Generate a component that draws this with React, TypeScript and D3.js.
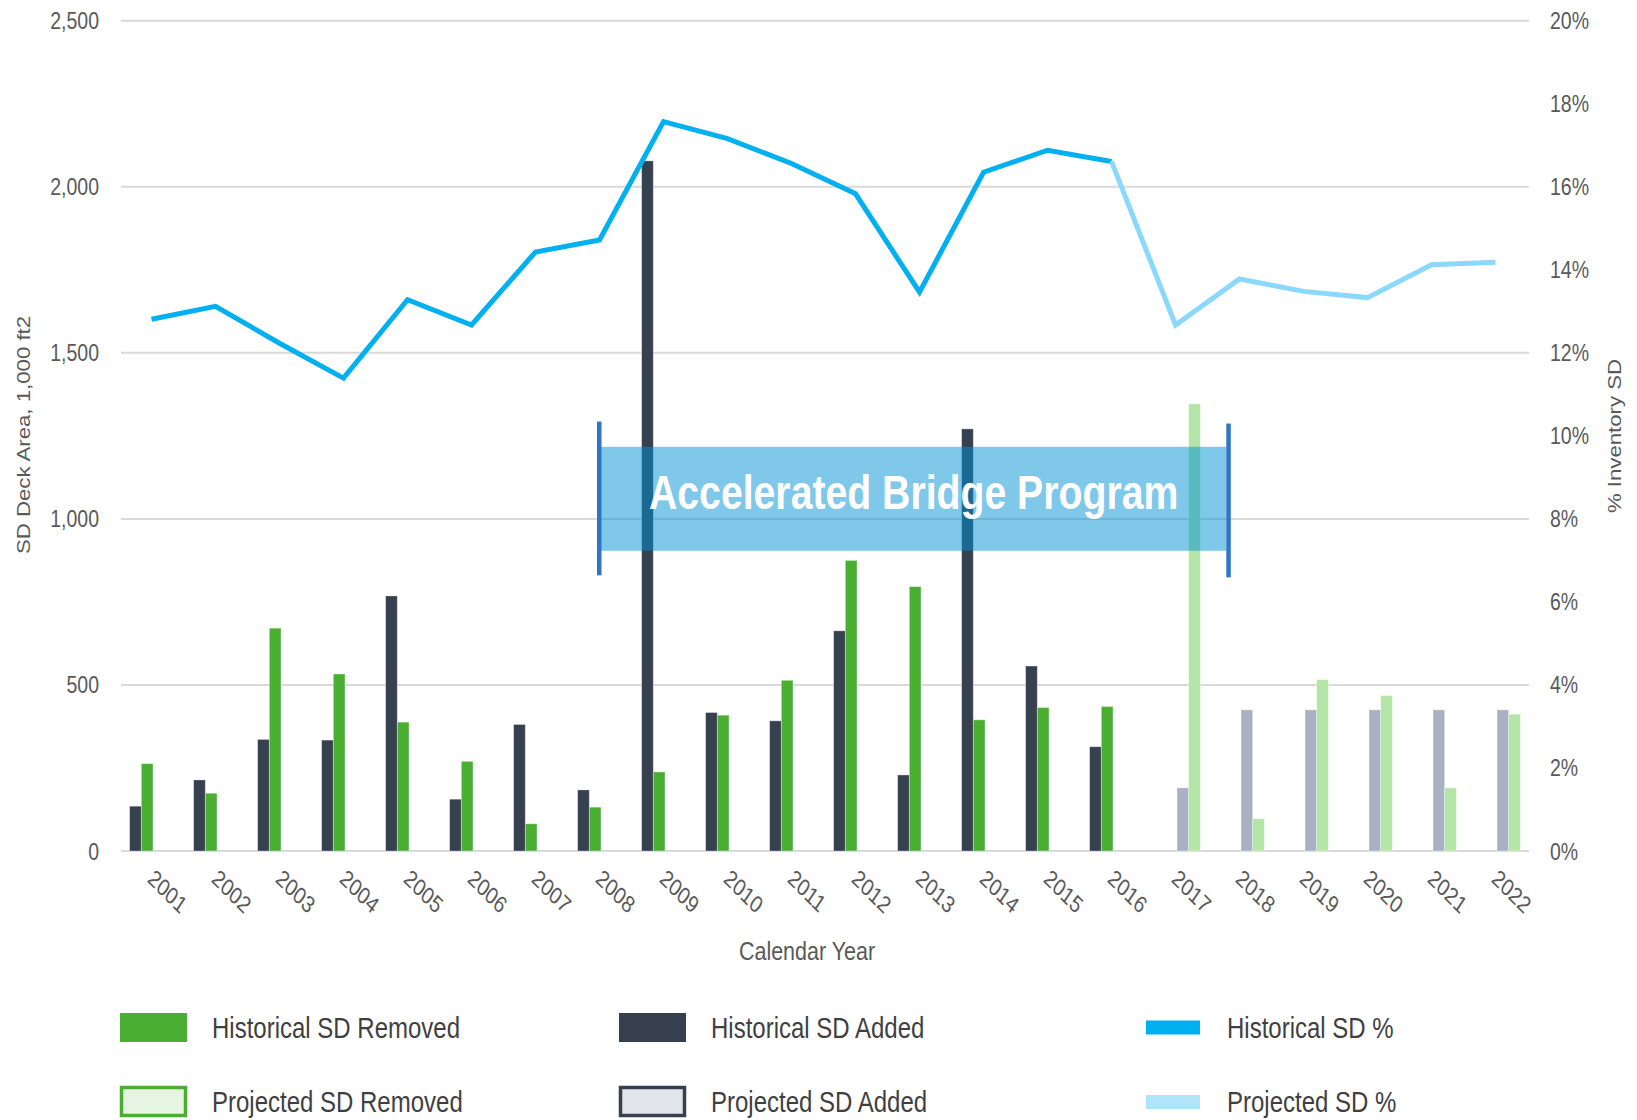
import React from 'react';
import * as d3 from 'd3';

const years = ['2001','2002','2003','2004','2005','2006','2007','2008','2009','2010','2011','2012','2013','2014','2015','2016','2017','2018','2019','2020','2021','2022'];
const firstProjectedYear = '2017';
const lastHistoricalLineYear = '2016';
const barSlots = ['histAdded', 'histRemoved', 'projAdded', 'projRemoved'];

const sdAdded = [135, 214, 336, 334, 768, 156, 381, 184, 2078, 417, 392, 663, 229, 1271, 557, 314, 190, 425, 425, 425, 425, 425];
const sdRemoved = [263, 174, 671, 533, 388, 270, 82, 132, 238, 409, 514, 875, 796, 395, 432, 435, 1346, 97, 516, 468, 190, 412];
const sdPercent = [12.81, 13.12, 12.23, 11.39, 13.28, 12.67, 14.43, 14.72, 17.57, 17.16, 16.56, 15.83, 13.46, 16.35, 16.88, 16.61, 12.67, 13.78, 13.48, 13.33, 14.12, 14.18];

const leftTicks = [0, 500, 1000, 1500, 2000, 2500];
const rightTicks = [0, 2, 4, 6, 8, 10, 12, 14, 16, 18, 20];

const annotationLabel = 'Accelerated Bridge Program';
const annotationYears = [2008, 2017.77];
const annotationBand = [904, 1217];
const annotationMarkers = [830, 1293];

const legendItems = [
  { label: 'Historical SD Removed', kind: 'bar', fill: '#4aae32', stroke: 'none' },
  { label: 'Historical SD Added', kind: 'bar', fill: '#37404f', stroke: 'none' },
  { label: 'Historical SD %', kind: 'line', fill: '#00b0f0', stroke: 'none' },
  { label: 'Projected SD Removed', kind: 'bar', fill: '#e6f5e1', stroke: '#4aae32' },
  { label: 'Projected SD Added', kind: 'bar', fill: '#e1e5ea', stroke: '#37404f' },
  { label: 'Projected SD %', kind: 'line', fill: '#b0e4f9', stroke: 'none' },
];

const COL = {
  removed: '#4aae32',
  added: '#37404f',
  projRemoved: '#b2e5a6',
  projAdded: '#a8b0c2',
  line: '#00b0f0',
  projLine: '#8ad8fb',
  grid: '#d9d9d9',
  tick: '#595959',
  legendText: '#3f3f3f',
};

const K = 1.22;
const FONT = '"Liberation Sans", Arial, sans-serif';

type STProps = { x: number; y: number; rot?: number; anchor?: string; size: number; weight?: string | number; fill?: string; dy?: string; children: React.ReactNode };
function ST({ x, y, rot = 0, anchor = 'start', size, weight = 'normal', fill = COL.tick, dy, children }: STProps) {
  return (
    <text
      transform={`translate(${x},${y}) scale(1,${K}) rotate(${rot})`}
      textAnchor={anchor}
      fontSize={size}
      fontWeight={weight}
      fontFamily={FONT}
      fill={fill}
      dy={dy}
    >
      {children}
    </text>
  );
}

export default function App() {
  const W = 1637, H = 1120;
  const yLeft = d3.scaleLinear().domain([0, 2500]).range([851, 20.7]);
  const yRight = d3.scaleLinear().domain([0, 20]).range([851, 20.7]);
  const x = d3.scaleBand().domain(years).range([121, 1529]);
  const bw = x.bandwidth();
  const xSlot = d3.scaleBand().domain(barSlots).range([0, bw]).paddingInner(0).paddingOuter(0.735);
  const sw = xSlot.bandwidth();
  const xYear = d3.scaleLinear().domain([2001, 2022]).range([121 + bw / 2, 1529 - bw / 2]);
  const projIdx = years.indexOf(firstProjectedYear);
  const histEnd = years.indexOf(lastHistoricalLineYear);

  const lx = (i: number) => (x(years[i]) as number) + bw / 2;
  const pts = sdPercent.map((v, i) => [lx(i) - 1.5, yRight(v)] as [number, number]);
  const line = d3.line<[number, number]>().x(d => d[0]).y(d => d[1]);
  const histPath = line(pts.slice(0, histEnd + 1)) || '';
  const projPath = line(pts.slice(histEnd)) || '';

  const ax0 = xYear(annotationYears[0]);
  const ax1 = xYear(annotationYears[1]);
  const boxTop = yLeft(annotationBand[1]);
  const boxBot = yLeft(annotationBand[0]);

  const legendCols = [120, 619, 1146];
  const legendRows = [1027.5, 1102];

  return (
    <svg width={W} height={H} style={{ position: 'absolute', left: 0, top: 0, background: '#fff' }}>
      <rect x={0} y={0} width={W} height={H} fill="#fff" />
      {leftTicks.map(t => (
        <line key={'g' + t} x1={121} x2={1529} y1={yLeft(t)} y2={yLeft(t)} stroke={COL.grid} strokeWidth={2} />
      ))}
      {leftTicks.map(t => (
        <ST key={'lt' + t} x={99} y={yLeft(t)} anchor="end" size={19.5} dy="0.358em">{d3.format(',')(t)}</ST>
      ))}
      {rightTicks.map(t => (
        <ST key={'rt' + t} x={1550} y={yRight(t)} anchor="start" size={19.5} dy="0.358em">{t + '%'}</ST>
      ))}
      {years.map((yr, i) => {
        const x0 = x(yr) as number;
        const proj = i >= projIdx;
        const aSlot = proj ? 'projAdded' : 'histAdded';
        const rSlot = proj ? 'projRemoved' : 'histRemoved';
        return (
          <g key={'b' + yr}>
            <rect x={x0 + (xSlot(aSlot) as number)} y={yLeft(sdAdded[i])} width={sw} height={yLeft(0) - yLeft(sdAdded[i])}
              fill={proj ? COL.projAdded : COL.added} stroke="rgba(255,255,255,0.45)" strokeWidth={0.8} />
            <rect x={x0 + (xSlot(rSlot) as number)} y={yLeft(sdRemoved[i])} width={sw} height={yLeft(0) - yLeft(sdRemoved[i])}
              fill={proj ? COL.projRemoved : COL.removed} stroke="rgba(255,255,255,0.45)" strokeWidth={0.8} />
          </g>
        );
      })}
      <rect x={ax0} y={boxTop} width={ax1 - ax0} height={boxBot - boxTop} fill="rgba(0,146,214,0.5)" />
      <rect x={ax0 - 4} y={yLeft(annotationMarkers[1])} width={4.5} height={yLeft(annotationMarkers[0]) - yLeft(annotationMarkers[1])} fill="#2e75c6" />
      <rect x={ax1} y={yLeft(annotationMarkers[1]) + 2} width={4.5} height={yLeft(annotationMarkers[0]) - yLeft(annotationMarkers[1])} fill="#2e75c6" />
      <ST x={(ax0 + ax1) / 2} y={(boxTop + boxBot) / 2 + 10} anchor="middle" size={39.2} weight="bold" fill="#ffffff">{annotationLabel}</ST>
      <path d={histPath} fill="none" stroke={COL.line} strokeWidth={5} strokeLinejoin="miter" />
      <path d={projPath} fill="none" stroke={COL.projLine} strokeWidth={5} strokeLinejoin="miter" />
      {years.map((yr, i) => (
        <ST key={'xl' + yr} x={lx(i) - 6.5} y={881} rot={39.3} anchor="start" size={19.5}>{yr}</ST>
      ))}
      <ST x={807} y={951} anchor="middle" size={21.5} dy="0.358em">Calendar Year</ST>
      <ST x={23} y={435} rot={-90} anchor="middle" size={18.2} dy="0.358em">SD Deck Area, 1,000 ft2</ST>
      <ST x={1614} y={436} rot={-90} anchor="middle" size={18.2} dy="0.358em">% Inventory SD</ST>
      {legendItems.map((it, i) => {
        const cx = legendCols[i % 3];
        const cy = legendRows[Math.floor(i / 3)];
        let swatch;
        if (it.kind === 'bar') {
          swatch = it.stroke === 'none'
            ? <rect x={cx} y={cy - 14.5} width={67} height={29} fill={it.fill} />
            : <rect x={cx + 1.5} y={cy - 14.5} width={64} height={28} fill={it.fill} stroke={it.stroke} strokeWidth={3.5} />;
        } else {
          swatch = <rect x={cx} y={cy - 7} width={54} height={14} fill={it.fill} />;
        }
        const tx = it.kind === 'bar' ? cx + 92 : cx + 81;
        return (
          <g key={'lg' + i}>
            {swatch}
            <ST x={tx} y={cy} anchor="start" size={24} fill={COL.legendText} dy="0.358em">{it.label}</ST>
          </g>
        );
      })}
    </svg>
  );
}
